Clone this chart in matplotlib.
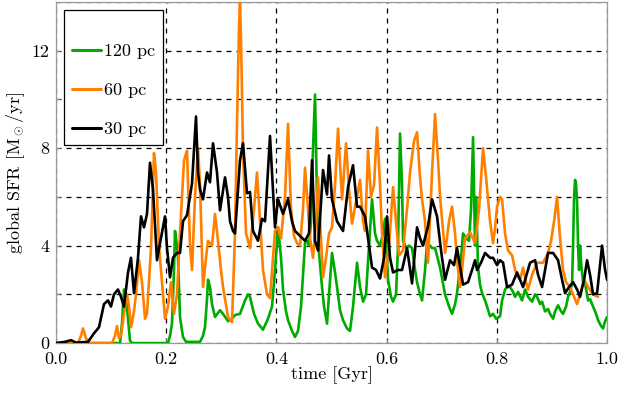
import matplotlib
matplotlib.use("Agg")
import matplotlib.pyplot as plt
from matplotlib.ticker import MultipleLocator, FuncFormatter

# ---- data (pixel-space readings -> Gyr, Msun/yr) ----
PX0, PXW = 56.0, 551.0  # used only to convert the readings below

t_black_px = [56, 65, 71, 76, 88, 94, 99, 104, 108, 111, 114, 118, 121, 124, 128, 131, 134, 138, 141, 144,
              147, 150, 153, 157, 160, 165, 167, 170, 173, 177, 180, 183, 187, 192, 196, 198, 200, 203, 207, 210,
              213, 217, 220, 225, 228, 230, 233, 235, 240, 243, 247, 250, 253, 258, 262, 265, 270, 275, 278, 283,
              288, 292, 295, 300, 305, 309, 312, 315, 318, 323, 327, 329, 332, 337, 343, 348, 353, 357, 360, 365,
              369, 372, 376, 380, 384, 387, 390, 393, 398, 402, 407, 412, 417, 420, 423, 428, 432, 437, 441, 445,
              450, 454, 457, 463, 468, 472, 475, 477, 481, 485, 490, 493, 497, 500, 503, 507, 512, 517, 523, 530,
              535, 538, 542, 548, 553, 558, 562, 565, 569, 573, 577, 580, 584, 587, 590, 593, 597, 602, 605, 607]
sfr_black = [0.0, 0.05, 0.12, 0.02, 0.05, 0.4, 0.65, 1.6, 1.75, 1.5, 2.0, 2.2, 1.9, 1.5, 2.9, 3.5, 2.05, 3.5, 5.2, 4.75,
             5.3, 7.4, 6.3, 3.4, 4.1, 5.2, 3.9, 2.7, 3.5, 3.7, 3.7, 5.0, 5.25, 6.55, 9.3, 7.0, 6.3, 5.9, 7.0, 6.6,
             8.2, 7.0, 5.45, 6.8, 6.0, 5.0, 4.6, 4.5, 7.5, 8.2, 6.15, 6.2, 4.6, 4.2, 5.1, 5.0, 8.5, 4.75, 5.9, 5.3,
             5.9, 5.0, 4.6, 4.4, 4.2, 4.5, 7.5, 4.2, 3.8, 7.1, 6.1, 7.7, 5.9, 5.0, 4.6, 6.4, 7.3, 5.6, 5.6, 5.2,
             4.0, 3.1, 3.0, 2.65, 3.5, 5.2, 3.5, 2.9, 3.0, 3.0, 3.9, 2.45, 4.75, 4.3, 4.0, 4.8, 5.9, 5.2, 3.8, 2.6,
             3.4, 3.2, 3.9, 2.4, 2.5, 3.0, 3.4, 3.0, 3.3, 3.7, 3.5, 3.5, 3.2, 3.4, 3.3, 2.3, 2.4, 2.9, 2.3, 3.3,
             3.4, 2.8, 2.3, 3.7, 3.7, 3.4, 2.6, 2.05, 2.3, 2.5, 2.2, 1.9, 2.6, 3.4, 2.8, 2.0, 2.05, 4.0, 3.0, 2.6]

t_orange_px = [56, 78, 81, 83, 86, 89, 112, 115, 117, 119, 121, 124, 127, 129, 131, 134, 136, 139, 142, 145,
               147, 151, 154, 156, 159, 162, 165, 168, 171, 174, 177, 180, 184, 187, 190, 192, 195, 198, 200, 203,
               206, 208, 212, 215, 218, 221, 223, 228, 232, 235, 237, 239, 240, 241, 243, 246, 250, 254, 257, 260,
               263, 267, 270, 273, 275, 278, 281, 285, 288, 291, 294, 297, 300, 303, 305, 308, 310, 313, 316, 318,
               320, 323, 326, 329, 332, 335, 338, 342, 346, 349, 352, 356, 360, 363, 365, 368, 371, 374, 377, 380,
               382, 385, 389, 393, 396, 399, 403, 407, 410, 414, 417, 420, 422, 425, 428, 432, 435, 438, 440, 445,
               449, 452, 455, 457, 460, 462, 465, 470, 475, 479, 483, 486, 488, 490, 493, 495, 497, 500, 502, 505,
               508, 512, 515, 518, 520, 523, 526, 528, 532, 537, 543, 548, 551, 554, 557, 560, 563, 566, 570, 574,
               577, 580, 584, 588, 592, 595, 598]
sfr_orange = [0.0, 0.0, 0.3, 0.6, 0.2, 0.0, 0.0, 0.3, 0.7, 0.2, 0.3, 1.2, 2.0, 1.5, 0.65, 1.3, 2.0, 3.4, 2.5, 1.0,
              1.2, 3.9, 7.8, 7.0, 4.0, 2.5, 1.0, 1.5, 2.5, 1.2, 2.0, 4.5, 7.5, 7.9, 4.0, 3.0, 6.0, 8.0, 6.5, 2.3,
              3.5, 4.2, 4.0, 5.3, 4.2, 3.0, 2.3, 1.07, 0.86, 4.5, 9.0, 13.0, 14.0, 12.5, 7.9, 4.5, 3.9, 5.5, 7.0, 5.0,
              3.0, 2.0, 1.85, 3.5, 4.6, 4.75, 4.3, 6.0, 9.0, 5.5, 4.4, 4.1, 4.0, 5.5, 7.2, 5.5, 4.3, 3.5, 5.0, 6.8,
              5.0, 2.7, 3.5, 4.5, 4.75, 6.5, 8.8, 5.9, 8.2, 6.3, 4.9, 5.8, 6.7, 5.0, 4.6, 7.9, 6.0, 6.5, 8.85, 6.5,
              4.5, 2.7, 4.0, 6.4, 5.0, 3.6, 3.8, 5.5, 7.0, 8.3, 8.65, 6.8, 5.9, 5.0, 3.3, 7.0, 9.4, 7.5, 6.0, 3.7,
              5.0, 5.6, 4.5, 3.4, 2.3, 3.0, 4.3, 4.55, 4.1, 5.5, 8.0, 6.8, 5.9, 5.0, 4.1, 4.7, 5.6, 6.0, 5.9, 4.5,
              3.8, 3.6, 3.0, 2.7, 2.6, 3.1, 2.5, 2.2, 2.8, 3.3, 3.3, 3.7, 4.2, 5.0, 6.0, 4.3, 3.0, 2.5, 2.3, 1.9,
              1.6, 2.0, 2.6, 2.3, 2.05, 1.95, 1.9]

t_green_px = [56, 120, 122, 124, 126, 128, 130, 132, 168, 170, 172, 174, 175, 177, 178, 180, 183, 186, 200, 203,
              205, 207, 208, 210, 212, 215, 220, 223, 228, 232, 235, 240, 245, 248, 250, 254, 258, 263, 268, 272,
              275, 278, 281, 283, 286, 288, 292, 295, 298, 301, 305, 307, 309, 311, 313, 315, 317, 319, 322, 324,
              327, 329, 332, 335, 337, 340, 343, 347, 350, 353, 357, 360, 363, 366, 369, 372, 375, 377, 380, 383,
              385, 387, 388, 391, 393, 396, 398, 400, 402, 403, 406, 409, 412, 415, 417, 420, 422, 425, 427, 430,
              432, 435, 440, 445, 449, 452, 455, 457, 461, 463, 466, 469, 471, 473, 475, 476, 478, 480, 482, 485,
              487, 490, 493, 496, 500, 502, 505, 507, 510, 513, 515, 518, 522, 525, 528, 532, 535, 537, 540, 542,
              545, 548, 550, 553, 555, 558, 561, 563, 566, 568, 570, 572, 573, 574, 575, 576, 577, 578, 579, 580,
              581, 583, 585, 588, 590, 593, 596, 598, 601, 603, 605, 607]
sfr_green = [0.0, 0.0, 0.8, 2.2, 2.0, 1.0, 0.1, 0.0, 0.0, 0.3, 0.8, 3.0, 4.6, 4.0, 3.5, 1.07, 0.25, 0.05, 0.05, 0.3,
             0.66, 1.8, 2.6, 2.3, 1.6, 1.07, 1.35, 1.2, 0.9, 1.0, 1.15, 1.2, 1.75, 2.0, 1.9, 1.2, 0.8, 0.55, 1.0, 1.5,
             3.0, 4.75, 3.5, 2.2, 1.3, 0.94, 0.5, 0.25, 0.5, 1.5, 4.1, 4.2, 4.0, 5.0, 8.0, 10.2, 5.9, 3.7, 2.3, 1.5,
             0.8, 2.0, 3.7, 2.9, 2.3, 1.35, 0.94, 0.6, 0.5, 1.5, 3.3, 2.3, 1.7, 2.0, 4.0, 5.9, 4.5, 4.2, 4.0, 4.5,
             5.1, 3.5, 2.6, 1.9, 1.7, 2.0, 4.0, 8.6, 6.5, 4.2, 3.9, 4.0, 3.9, 3.0, 2.5, 2.0, 1.75, 3.0, 4.1, 4.0,
             3.9, 3.9, 3.1, 2.0, 1.5, 1.2, 1.6, 2.05, 3.5, 4.5, 4.3, 4.2, 5.5, 8.45, 4.0, 6.0, 3.1, 2.4, 2.05, 1.75,
             1.5, 1.1, 1.2, 1.0, 1.1, 1.75, 2.2, 2.3, 2.3, 2.1, 1.9, 2.1, 1.75, 2.2, 1.9, 1.7, 2.0, 1.9, 1.6, 1.7,
             1.3, 1.4, 1.2, 1.0, 1.3, 1.55, 1.3, 1.2, 1.5, 1.9, 2.1, 2.45, 4.0, 6.0, 6.7, 6.5, 5.8, 4.0, 3.0, 4.0,
             3.3, 2.5, 2.45, 1.75, 1.8, 1.5, 1.2, 0.94, 0.7, 0.6, 0.9, 1.07]

labels = ["120 pc", "60 pc", "30 pc"]
colors = ["#00aa00", "#ff8000", "#000000"]

t_black = [(p - PX0) / PXW for p in t_black_px]
t_orange = [(p - PX0) / PXW for p in t_orange_px]
t_green = [(p - PX0) / PXW for p in t_green_px]

plt.rcParams["font.family"] = "serif"
plt.rcParams["font.serif"] = ["cmr10", "DejaVu Serif"]
plt.rcParams["mathtext.fontset"] = "cm"
plt.rcParams["axes.formatter.use_mathtext"] = True

fig = plt.figure(figsize=(6.22, 3.93), dpi=100)
ax = fig.add_axes([0.090, 0.127, 0.886, 0.868])

kw = dict(lw=1.9, solid_joinstyle="round", solid_capstyle="round")
ax.plot(t_green, sfr_green, color=colors[0], label=labels[0], zorder=3, **kw)
ax.plot(t_orange, sfr_orange, color=colors[1], label=labels[1], zorder=3, **kw)
ax.plot(t_black, sfr_black, color=colors[2], label=labels[2], zorder=4, **kw)

ax.set_xlim(0, 1.0)
ax.set_ylim(0, 14)
ax.xaxis.set_major_locator(MultipleLocator(0.2))
ax.xaxis.set_major_formatter(FuncFormatter(lambda v, p: f"{v:.1f}"))
ax.yaxis.set_major_locator(MultipleLocator(2))
ax.yaxis.set_major_formatter(FuncFormatter(lambda v, p: f"{int(round(v))}" if int(round(v)) % 4 == 0 else ""))

ax.grid(True, color="black", linestyle=(0, (4, 4)), linewidth=0.9, zorder=1)
ax.set_axisbelow(True)
ax.tick_params(axis="both", direction="in", length=3, labelsize=13, color="#888888")
ax.tick_params(axis="x", pad=6)
ax.tick_params(axis="y", pad=5)
for s in ax.spines.values():
    s.set_color("#999999")
    s.set_linewidth(0.9)

ax.set_xlabel("time [Gyr]", fontsize=13, labelpad=0)
ax.set_ylabel(r"global SFR [M$_\odot$/yr]", fontsize=13, labelpad=3)

leg = ax.legend(loc="upper left", fontsize=13, frameon=True, fancybox=False,
                handlelength=1.6, handletextpad=0.15, borderpad=0.45, labelspacing=1.3,
                borderaxespad=0.45, title=" ", title_fontsize=2)
leg.get_frame().set_edgecolor("black")
leg.get_frame().set_linewidth(0.9)
leg.get_frame().set_alpha(1.0)
for line in leg.get_lines():
    line.set_linewidth(2.2)

fig.savefig("out.png", dpi=100)
